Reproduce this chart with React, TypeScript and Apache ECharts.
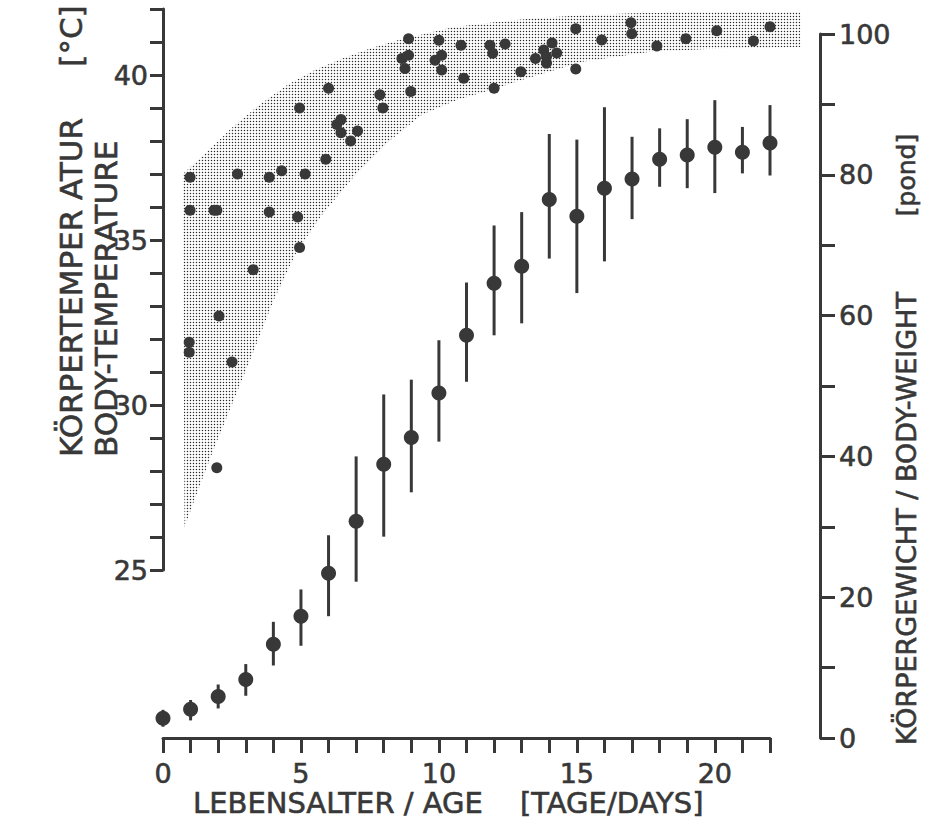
import React, { useEffect, useRef } from 'react';
import * as echarts from 'echarts';

// ---- Body temperature scatter (°C vs age in days) ----
const tempDays = [0.98, 0.98, 0.95, 0.95, 1.85, 1.95, 2.03, 1.95, 2.5, 2.7, 3.27, 3.85, 3.85, 4.3, 4.88, 4.95, 4.95, 5.15, 5.9, 6.0, 6.3, 6.45, 6.45, 6.8, 7.05, 7.86, 7.97, 8.66, 8.77, 8.9, 8.9, 8.98, 9.86, 10.0, 10.1, 10.1, 10.8, 10.9, 11.85, 11.95, 12.0, 12.4, 12.97, 13.5, 13.8, 13.9, 13.9, 14.1, 14.27, 14.96, 14.96, 15.9, 16.96, 16.99, 17.9, 18.95, 20.07, 21.4, 22.0];
const temps = [36.9, 35.9, 31.9, 31.6, 35.9, 35.9, 32.7, 28.1, 31.3, 37.0, 34.1, 36.9, 35.85, 37.1, 35.7, 34.77, 39.0, 37.0, 37.45, 39.6, 38.5, 38.65, 38.25, 38.0, 38.3, 39.4, 39.0, 40.5, 40.2, 41.1, 40.6, 39.5, 40.45, 41.05, 40.6, 40.15, 40.9, 39.9, 40.9, 40.66, 39.6, 40.94, 40.1, 40.5, 40.76, 40.36, 40.55, 40.97, 40.67, 41.4, 40.18, 41.06, 41.58, 41.25, 40.88, 41.1, 41.34, 41.03, 41.46];

// ---- Shaded temperature band edges ----
const bandUpperDays = [0.72, 1.5, 2.5, 3.5, 4.5, 5.5, 6.5, 7.5, 8.5, 9.5, 10.5, 12, 13.5, 15, 17, 19, 23.1];
const bandUpperTemps = [37.0, 37.6, 38.4, 39.1, 39.7, 40.15, 40.5, 40.8, 41.05, 41.25, 41.45, 41.6, 41.72, 41.8, 41.87, 41.9, 41.9];
const bandLowerDays = [0.78, 1.22, 1.81, 2.54, 3.27, 4.0, 4.86, 5.8, 7.0, 8.2, 9.4, 10.65, 11.85, 13.0, 15.2, 17.6, 20.1, 23.1];
const bandLowerTemps = [26.3, 27.3, 28.6, 30.1, 31.6, 33.15, 34.67, 35.8, 37.0, 38.0, 38.8, 39.24, 39.54, 39.85, 40.4, 40.7, 40.8, 40.85];

// ---- Body weight (pond) mean and range per day ----
const weightDays = [0, 1, 2, 3, 4, 5, 6, 7, 8, 9, 10, 11, 12, 13, 14, 15, 16, 17, 18, 19, 20, 21, 22];
const weightMean = [2.8, 4.1, 5.9, 8.3, 13.3, 17.3, 23.4, 30.8, 38.9, 42.7, 49.0, 57.2, 64.6, 67.0, 76.5, 74.1, 78.1, 79.4, 82.2, 82.8, 83.9, 83.2, 84.5];
const weightHigh = [4.0, 5.4, 7.6, 10.5, 16.5, 21.1, 28.8, 40.0, 48.8, 50.9, 56.5, 64.7, 72.8, 74.7, 85.8, 85.0, 89.6, 85.4, 86.6, 87.9, 90.6, 86.8, 89.9];
const weightLow = [1.6, 2.5, 4.2, 6.0, 10.3, 13.1, 17.3, 22.2, 28.6, 34.9, 42.1, 50.6, 57.2, 58.9, 68.1, 63.2, 67.7, 73.7, 78.3, 78.1, 77.4, 80.2, 79.9];

// ---- Tick labels ----
const tempLabels = [25, 30, 35, 40];
const weightLabels = [0, 20, 40, 60, 80, 100];
const ageLabels = [0, 5, 10, 15, 20];

const INK = '#383838';
const FONT = "'DejaVu Sans', 'Liberation Sans', sans-serif";
const TB = 0.6; // slight text thickening

const dotSvg =
  "<svg xmlns='http://www.w3.org/2000/svg' width='3' height='3'>" +
  "<circle cx='1.5' cy='1.5' r='0.72' fill='#2a2a2a'/></svg>";
const dotUrl = 'data:image/svg+xml;charset=utf-8,' + encodeURIComponent(dotSvg);

export default function App() {
  const ref = useRef<HTMLDivElement>(null);

  useEffect(() => {
    if (!ref.current) return;
    const chart = echarts.init(ref.current, undefined, { renderer: 'svg' });

    const axisLine = { show: true, onZero: false, lineStyle: { color: INK, width: 3 } };
    const labelStyle = { color: INK, fontSize: 27, fontFamily: FONT, textBorderColor: INK, textBorderWidth: TB };
    const title = (text: string, x: number, y: number, size: number, align: string, rotate: boolean) => ({
      type: 'text', x, y, rotation: rotate ? Math.PI / 2 : 0,
      style: {
        text, font: `${size}px ${FONT}`, fill: INK, stroke: INK, lineWidth: TB,
        align, verticalAlign: 'middle',
      },
    });

    const option: any = {
      animation: false,
      backgroundColor: '#ffffff',
      grid: [
        { left: 163, right: 172, top: 9, bottom: 253 },
        { left: 163, right: 172, top: 34, bottom: 85 },
      ],
      xAxis: [
        { type: 'value', gridIndex: 0, min: 0, max: 22, show: false },
        {
          type: 'value', gridIndex: 1, min: 0, max: 22, interval: 1,
          axisLine,
          axisTick: { show: true, length: 15, lineStyle: { color: INK, width: 3 } },
          axisLabel: {
            ...labelStyle, margin: 22,
            formatter: (v: number) => (ageLabels.includes(v) ? String(v) : ''),
          },
          splitLine: { show: false },
        },
      ],
      yAxis: [
        {
          type: 'value', gridIndex: 0, position: 'left', min: 25, max: 42, interval: 1,
          axisLine,
          axisTick: { show: true, length: 13, lineStyle: { color: INK, width: 3 } },
          axisLabel: {
            ...labelStyle, margin: 15,
            formatter: (v: number) => (tempLabels.includes(v) ? String(v) : ''),
          },
          splitLine: { show: false },
        },
        {
          type: 'value', gridIndex: 1, position: 'right', offset: 50, min: 0, max: 100, interval: 10,
          axisLine,
          axisTick: { show: true, length: 15, lineStyle: { color: INK, width: 3 } },
          axisLabel: {
            ...labelStyle, margin: 19,
            formatter: (v: number) => (weightLabels.includes(v) ? String(v) : ''),
          },
          splitLine: { show: false },
        },
      ],
      series: [
        {
          type: 'custom', xAxisIndex: 0, yAxisIndex: 0, z: 1, silent: true,
          data: [[bandUpperDays[0], bandUpperTemps[0]]],
          renderItem: (_p: any, api: any) => {
            const pts: number[][] = [];
            for (let i = 0; i < bandUpperDays.length; i++) pts.push(api.coord([bandUpperDays[i], bandUpperTemps[i]]));
            for (let i = bandLowerDays.length - 1; i >= 0; i--) pts.push(api.coord([bandLowerDays[i], bandLowerTemps[i]]));
            return {
              type: 'polygon',
              shape: { points: pts },
              style: {
                fill: { image: dotUrl, repeat: 'repeat', imageWidth: 3, imageHeight: 3 },
                stroke: null,
              },
            };
          },
        },
        {
          type: 'scatter', xAxisIndex: 0, yAxisIndex: 0, z: 3,
          symbol: 'circle', symbolSize: 11,
          itemStyle: { color: INK, opacity: 1 },
          data: tempDays.map((d, i) => [d, temps[i]]),
        },
        {
          type: 'custom', xAxisIndex: 1, yAxisIndex: 1, z: 2,
          data: weightDays.map((d, i) => [d, weightLow[i], weightHigh[i]]),
          encode: { x: 0, y: [1, 2] },
          renderItem: (_p: any, api: any) => {
            const lo = api.coord([api.value(0), api.value(1)]);
            const hi = api.coord([api.value(0), api.value(2)]);
            return {
              type: 'line',
              shape: { x1: lo[0], y1: lo[1], x2: hi[0], y2: hi[1] },
              style: { stroke: INK, lineWidth: 3 },
            };
          },
        },
        {
          type: 'scatter', xAxisIndex: 1, yAxisIndex: 1, z: 3,
          symbol: 'circle', symbolSize: 15,
          itemStyle: { color: INK, opacity: 1 },
          data: weightDays.map((d, i) => [d, weightMean[i]]),
        },
      ],
      graphic: [
        title('KÖRPERTEMPER ATUR', 71, 457, 31, 'left', true),
        title('[°C]', 71, 36, 31, 'center', true),
        title('BODY-TEMPERATURE', 106, 457, 31, 'left', true),
        title('KÖRPERGEWICHT / BODY-WEIGHT', 906, 745, 27, 'left', true),
        title('[pond]', 906, 175, 25, 'center', true),
        title('LEBENSALTER / AGE', 193, 803, 29, 'left', false),
        title('[TAGE/DAYS]', 520, 803, 29, 'left', false),
      ],
    };

    chart.setOption(option);
    return () => chart.dispose();
  }, []);

  return (
    <div
      ref={ref}
      style={{ position: 'fixed', left: 0, top: 0, width: 942, height: 823, background: '#fff' }}
    />
  );
}
